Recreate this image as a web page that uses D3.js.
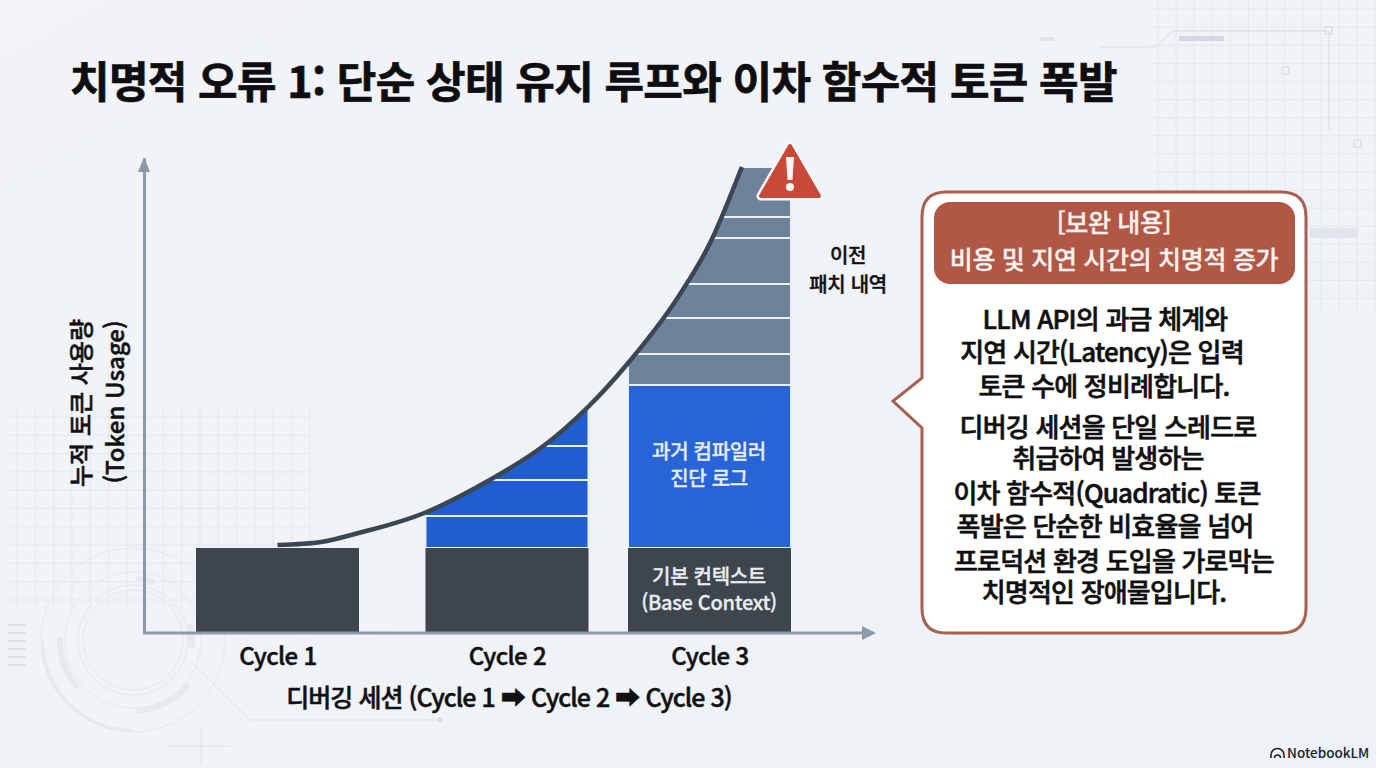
<!DOCTYPE html>
<html lang="ko">
<head>
<meta charset="utf-8">
<script src="https://cdn.jsdelivr.net/npm/d3@7"></script>
<style>
  html, body { margin: 0; padding: 0; background: #eff2f6; }
  svg { display: block; }
  text { font-family: "Noto Sans CJK KR", "Noto Sans", sans-serif; }
</style>
</head>
<body>
<svg width="1376" height="768"></svg>
<script>
const cycles = [1, 2, 3];
const cycleLabels = ["Cycle 1", "Cycle 2", "Cycle 3"];
const baseContext = [85, 85, 85];
const cycle2Patches = [32, 36, 34, 43];
const cycle3Diagnostics = [163];
const cycle3History = [31, 36, 34, 46, 21, 50];
const curveCycle = [1, 1.19, 1.37, 1.64, 1.94, 2.18, 2.40, 2.59, 2.77, 2.88, 3.01, 3.16];
const curveTokens = [88, 91, 101, 120, 155, 187, 226, 268, 314, 347, 393, 466];

const titleText = "치명적 오류 1: 단순 상태 유지 루프와 이차 함수적 토큰 폭발";
const yTitle = ["누적 토큰 사용량", "(Token Usage)"];
const xTitle = "디버깅 세션 (Cycle 1 ➡ Cycle 2 ➡ Cycle 3)";
const baseLabel = ["기본 컨텍스트", "(Base Context)"];
const diagLabel = ["과거 컴파일러", "진단 로그"];
const historyLabel = ["이전", "패치 내역"];
const calloutHead = ["[보완 내용]", "비용 및 지연 시간의 치명적 증가"];
const calloutBody = [
  "LLM API의 과금 체계와",
  "지연 시간(Latency)은 입력",
  "토큰 수에 정비례합니다.",
  "디버깅 세션을 단일 스레드로",
  "취급하여 발생하는",
  "이차 함수적(Quadratic) 토큰",
  "폭발은 단순한 비효율을 넘어",
  "프로덕션 환경 도입을 가로막는",
  "치명적인 장애물입니다."
];

let svg = d3.select("svg");

let defs = svg.append("defs");
let bg = defs.append("linearGradient").attr("id", "bg")
    .attr("x1", 0).attr("y1", 0).attr("x2", 1).attr("y2", 1);
bg.append("stop").attr("offset", "0%").attr("stop-color", "#f1f3f7");
bg.append("stop").attr("offset", "100%").attr("stop-color", "#eef2f6");
svg.append("rect").attr("width", 1376).attr("height", 768).attr("fill", "url(#bg)");

// faint background decoration
let deco = svg.append("g").attr("fill", "none").attr("stroke", "#e3e8ee");

function grid(x0, x1, y0, y1, step) {
  d3.range(x0, x1, step).forEach(x => {
    deco.append("line").attr("x1", x).attr("x2", x).attr("y1", y0).attr("y2", y1);
  });
  d3.range(y0 + 9, y1, step).forEach(y => {
    deco.append("line").attr("x1", x0 - 8).attr("x2", x1).attr("y1", y).attr("y2", y);
  });
}
grid(17, 310, 408, 610, 18.3);
grid(1158, 1376, 0, 310, 18.1);

let arc = d3.arc();
let rings = deco.append("g").attr("transform", "translate(133,640)");
[50, 55, 68, 92].forEach(r => rings.append("circle").attr("r", r).attr("stroke", "#e4e8ed"));
[[70, 76, 4.0, 4.75], [68, 74, 2.25, 3.1], [58, 64, 0.05, 0.35], [55, 62, 1.3, 1.7], [89, 92, 3.14, 4.7]].forEach(a => {
  rings.append("path")
      .attr("d", arc({innerRadius: a[0], outerRadius: a[1], startAngle: a[2], endAngle: a[3]}))
      .attr("fill", "#e5e9ee").attr("stroke", "none");
});
deco.append("path").attr("d", "M192,663L250,720L440,720").attr("stroke", "#dbe1e7");
deco.append("circle").attr("cx", 440).attr("cy", 720).attr("r", 2.5).attr("fill", "#d5dbe2");
deco.append("path").attr("d", "M168,746H230M201,727V766").attr("stroke", "#dde2e8");
deco.append("path").attr("d", "M1100,47H1156L1173,31H1329V130").attr("stroke", "#d5dce4");
deco.append("rect").attr("x", 1179).attr("y", 36).attr("width", 45).attr("height", 5).attr("fill", "#d2d8e1").attr("stroke", "none");
deco.append("rect").attr("x", 1040).attr("y", 37).attr("width", 15).attr("height", 4).attr("fill", "#dfe4ea").attr("stroke", "none");
[[1282, 67], [1354, 140], [1325, 27]].forEach(p => {
  deco.append("rect").attr("x", p[0]).attr("y", p[1]).attr("width", 7).attr("height", 7).attr("stroke", "#cfd6de");
});
deco.append("rect").attr("x", 1310).attr("y", 228).attr("width", 48).attr("height", 10).attr("fill", "#e0e5ec").attr("stroke", "none");
[624, 632, 640, 648, 656, 664].forEach(y => {
  deco.append("rect").attr("x", 8).attr("y", y).attr("width", 18).attr("height", 2).attr("fill", "#dde2e8").attr("stroke", "none");
});

// scales: bar centres are not evenly spaced in the picture
let x = d3.scaleLinear().domain(cycles).range([277.5, 507, 709.5]);
let y = d3.scaleLinear().domain([0, 475]).range([633, 158]);
let barWidth = 163;

// stacked segments from the base upward
function stack(values, start) {
  let sum = start;
  return values.map(v => {
    let seg = {y0: sum, y1: sum + v};
    sum += v;
    return seg;
  });
}

let curvePoints = curveCycle.map((d, i) => [d, curveTokens[i]]);
let curveLine = d3.line()
    .x(d => x(d[0]))
    .y(d => y(d[1]))
    .curve(d3.curveNatural);

// everything above the curve gets cut away
let lastTokens = curveTokens[curveTokens.length - 1];
defs.append("clipPath").attr("id", "under-curve")
    .append("path")
    .attr("d", curveLine(curvePoints)
      + "L" + x(3.5) + "," + y(lastTokens)
      + "L" + x(3.5) + "," + y(0)
      + "L" + x(1) + "," + y(0) + "Z");

let bars = svg.append("g");

function drawStack(cycle, segs, fill) {
  bars.append("g")
      .attr("clip-path", "url(#under-curve)")
      .selectAll("rect")
      .data(segs)
      .enter()
      .append("rect")
      .attr("x", x(cycle) - barWidth / 2)
      .attr("width", barWidth)
      .attr("y", d => y(d.y1))
      .attr("height", d => y(d.y0) - y(d.y1))
      .attr("fill", fill)
      .attr("stroke", "#e6f2f7")
      .attr("stroke-width", 2);
}

drawStack(2, stack(cycle2Patches, baseContext[1]), "#215cd1");
drawStack(3, stack(cycle3Diagnostics, baseContext[2]), "#2863d8");
drawStack(3, stack(cycle3History, baseContext[2] + d3.sum(cycle3Diagnostics)), "#6f829b");

bars.append("g")
    .selectAll("rect")
    .data(cycles)
    .enter()
    .append("rect")
    .attr("x", d => x(d) - barWidth / 2)
    .attr("width", barWidth)
    .attr("y", (d, i) => y(baseContext[i]))
    .attr("height", (d, i) => y(0) - y(baseContext[i]))
    .attr("fill", "#3e454c");

// the growth curve
svg.append("path")
    .attr("d", curveLine(curvePoints))
    .attr("fill", "none")
    .attr("stroke", "#3b4653")
    .attr("stroke-width", 4.5);

// axes
let axisColor = "#8d99a8";
let yAxis = svg.append("g")
    .attr("transform", "translate(144,0)")
    .call(d3.axisLeft(y).tickValues([]).tickSizeOuter(0));
yAxis.select(".domain").attr("stroke", axisColor).attr("stroke-width", 3);

let xAxis = svg.append("g")
    .attr("transform", "translate(0,633)")
    .call(d3.axisBottom(x).tickValues(cycles).tickSize(0).tickFormat((d, i) => cycleLabels[i]));
xAxis.select(".domain").remove();
xAxis.selectAll("text")
    .attr("y", 15)
    .attr("font-size", 24)
    .attr("font-weight", 500)
    .attr("letter-spacing", -0.6)
    .attr("fill", "#111")
    .attr("stroke", "#111")
    .attr("stroke-width", 0.5)
    .style("font-family", '"Noto Sans CJK KR"');

svg.append("line").attr("x1", 143).attr("x2", 866).attr("y1", 633).attr("y2", 633)
    .attr("stroke", axisColor).attr("stroke-width", 3);
svg.append("path").attr("d", "M876,633L862,626V640Z").attr("fill", axisColor);
svg.append("path").attr("d", "M144,157L138,172H150Z").attr("fill", axisColor);

// texts, a thin stroke thickens the glyphs like the reference
function lines(rows, cx, ys, size, weight, color, spacing, thick) {
  rows.forEach((t, i) => {
    svg.append("text")
        .attr("x", Array.isArray(cx) ? cx[i] : cx)
        .attr("y", ys[i])
        .attr("text-anchor", "middle")
        .attr("font-size", size)
        .attr("font-weight", weight)
        .attr("letter-spacing", spacing || 0)
        .attr("fill", color)
        .attr("stroke", color)
        .attr("stroke-width", thick || 0)
        .text(t);
  });
}

svg.append("text")
    .attr("x", 70).attr("y", 98)
    .attr("font-size", 43)
    .attr("font-weight", 700)
    .attr("letter-spacing", -0.65)
    .attr("fill", "#0e0e10")
    .attr("stroke", "#0e0e10")
    .attr("stroke-width", 0.7)
    .text(titleText);

yTitle.forEach((t, i) => {
  svg.append("text")
      .attr("transform", `translate(${[90, 124][i]},${[403, 402][i]}) rotate(-90)`)
      .attr("text-anchor", "middle")
      .attr("font-size", 24)
      .attr("font-weight", 500)
      .attr("fill", "#111")
      .attr("stroke", "#111")
      .attr("stroke-width", 0.5)
      .text(t);
});

lines([xTitle], 509, [707], 25, 500, "#111", -0.95, 0.5);
lines(baseLabel, 709, [584, 610], 20, 500, "#e8edf1", -0.3, 0.3);
lines(diagLabel, 709, [459, 486], 20, 500, "#e6edf8", -0.3, 0.3);
lines(historyLabel, 848, [263, 292], 20, 500, "#111", -0.3, 0.4);

// warning sign
let warn = svg.append("g").attr("stroke-linejoin", "round");
warn.append("path")
    .attr("d", "M790,146L761,196H819Z")
    .attr("fill", "#f5f7f9")
    .attr("stroke", "#f5f7f9")
    .attr("stroke-width", 9);
warn.append("path")
    .attr("d", "M790,146L761,196H819Z")
    .attr("fill", "#c9483a")
    .attr("stroke", "#c9483a")
    .attr("stroke-width", 4);
warn.append("path").attr("d", "M786,157H794L792.5,180H787.5Z").attr("fill", "#f7f3f1");
warn.append("circle").attr("cx", 790).attr("cy", 187).attr("r", 4).attr("fill", "#f7f3f1");

// callout
svg.append("path")
    .attr("d", "M946,192H1281Q1306,192 1306,217V608Q1306,633 1281,633H946Q922,633 922,608V428L893,401L922,378V217Q922,192 946,192Z")
    .attr("fill", "#ffffff")
    .attr("stroke", "#a8604f")
    .attr("stroke-width", 3);
svg.append("rect")
    .attr("x", 934).attr("y", 202)
    .attr("width", 361).attr("height", 82)
    .attr("rx", 16)
    .attr("fill", "#b05745");
lines(calloutHead, 1114, [232, 269], 25, 500, "#fbf1ee", -0.3, 0.3);
lines(calloutBody,
    [1105, 1102, 1104, 1108, 1108, 1107, 1105, 1114, 1104],
    [329, 362, 396, 437, 468, 503, 536, 571, 602],
    26, 500, "#101010", -0.8, 0.6);

// logo
let logo = svg.append("g").attr("fill", "none").attr("stroke", "#222").attr("stroke-width", 1.6);
logo.append("path").attr("d", "M1271,758V755A6.5,6.5 0 0 1 1284,755V758");
logo.append("path").attr("d", "M1274.5,758A3,3 0 0 1 1280.5,758");
svg.append("text")
    .attr("x", 1287).attr("y", 758)
    .attr("font-size", 13.5)
    .attr("font-weight", 500)
    .attr("fill", "#222")
    .text("NotebookLM");
</script>
</body>
</html>
